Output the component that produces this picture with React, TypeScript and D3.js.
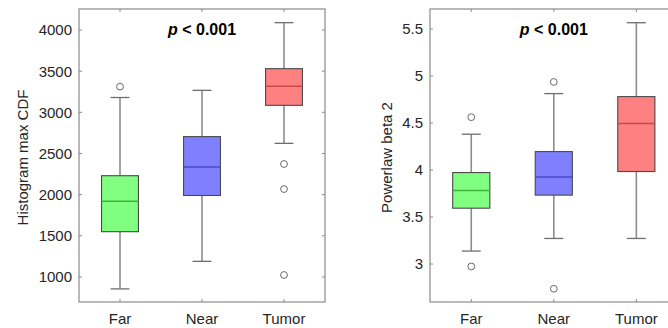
import React from "react";
import * as d3 from "d3";

const categories = ["Far", "Near", "Tumor"];
const fills = ["#80ff80", "#8080ff", "#ff8080"];
const medianColors = ["#3fb53f", "#4a4ac8", "#c84a4a"];

// Left panel: Histogram max CDF  [lowWhisker, q1, median, q3, highWhisker]
const histStats = [
  [855, 1550, 1920, 2230, 3180],
  [1190, 1990, 2336, 2705, 3267],
  [2623, 3085, 3316, 3530, 4089],
];
const histOutliers = [[3311], [], [2372, 2068, 1024]];
const histTicks = [1000, 1500, 2000, 2500, 3000, 3500, 4000];
const histDomain = [696, 4255];

// Right panel: Powerlaw beta 2
const betaStats = [
  [3.138, 3.594, 3.782, 3.973, 4.381],
  [3.272, 3.733, 3.927, 4.196, 4.813],
  [3.272, 3.984, 4.494, 4.781, 5.567],
];
const betaOutliers = [[4.562, 2.974], [4.937, 2.737], []];
const betaTicks = [3, 3.5, 4, 4.5, 5, 5.5];
const betaDomain = [2.596, 5.713];

const TEXT = "#262626";
const AXIS = "#8a8a8a";
const FONT = "'Liberation Sans', Arial, Helvetica, sans-serif";

type PanelProps = {
  x0: number;
  x1: number;
  stats: number[][];
  outliers: number[][];
  ticks: number[];
  domain: number[];
  label: string;
  labelX: number;
};

function Panel({ x0, x1, stats, outliers, ticks, domain, label, labelX }: PanelProps) {
  const top = 9;
  const bottom = 302;
  const y = d3.scaleLinear().domain(domain).range([bottom, top]);
  const x = d3.scaleLinear().domain([0.5, 3.5]).range([x0, x1]);
  const unit = x(1) - x(0);
  const boxW = unit * 0.45;
  const capW = unit * 0.23;
  const tl = 3;
  return (
    <g>
      {/* boxes */}
      {categories.map((c, i) => {
        const [lo, q1, med, q3, hi] = stats[i];
        const cx = x(i + 1);
        return (
          <g key={c}>
            <line x1={cx} x2={cx} y1={y(hi)} y2={y(q3)} stroke="#8c8c8c" strokeWidth={1.6} />
            <line x1={cx} x2={cx} y1={y(q1)} y2={y(lo)} stroke="#8c8c8c" strokeWidth={1.6} />
            <line x1={cx - capW / 2} x2={cx + capW / 2} y1={y(hi)} y2={y(hi)} stroke="#6e6e6e" strokeWidth={1.3} />
            <line x1={cx - capW / 2} x2={cx + capW / 2} y1={y(lo)} y2={y(lo)} stroke="#6e6e6e" strokeWidth={1.3} />
            <rect
              x={cx - boxW / 2}
              y={y(q3)}
              width={boxW}
              height={y(q1) - y(q3)}
              fill={fills[i]}
              stroke="#4a4a4a"
              strokeWidth={1.1}
            />
            <line x1={cx - boxW / 2} x2={cx + boxW / 2} y1={y(med)} y2={y(med)} stroke={medianColors[i]} strokeWidth={1.5} />
            {outliers[i].map((v, k) => (
              <circle key={k} cx={cx} cy={y(v)} r={3.4} fill="none" stroke="#6a6a6a" strokeWidth={1} />
            ))}
          </g>
        );
      })}
      {/* frame */}
      <rect x={x0} y={top} width={x1 - x0} height={bottom - top} fill="none" stroke={AXIS} strokeWidth={1.2} />
      {/* y ticks */}
      {ticks.map((t) => (
        <g key={t}>
          <line x1={x0} x2={x0 + tl} y1={y(t)} y2={y(t)} stroke={AXIS} />
          <line x1={x1} x2={x1 - tl} y1={y(t)} y2={y(t)} stroke={AXIS} />
          <text
            x={x0 - 7}
            y={y(t)}
            dy="0.36em"
            textAnchor="end"
            fontSize={15}
            fill={TEXT}
            fontFamily={FONT}
          >
            {d3.format("")(t)}
          </text>
        </g>
      ))}
      {/* x ticks */}
      {categories.map((c, i) => (
        <g key={c}>
          <line x1={x(i + 1)} x2={x(i + 1)} y1={bottom} y2={bottom - tl} stroke={AXIS} />
          <line x1={x(i + 1)} x2={x(i + 1)} y1={top} y2={top + tl} stroke={AXIS} />
          <text x={x(i + 1)} y={323.5} textAnchor="middle" fontSize={15} fill={TEXT} fontFamily={FONT}>
            {c}
          </text>
        </g>
      ))}
      {/* y label */}
      <text
        transform={`translate(${labelX},${(top + bottom) / 2 + 2}) rotate(-90)`}
        textAnchor="middle"
        dy="0.36em"
        fontSize={15}
        fill={TEXT}
        fontFamily={FONT}
      >
        {label}
      </text>
      {/* p-value */}
      <text x={x(2)} y={35} textAnchor="middle" fontSize={16} fontWeight="bold" fill="#000" fontFamily={FONT}>
        <tspan fontStyle="italic">p</tspan>
        <tspan>{" < 0.001"}</tspan>
      </text>
    </g>
  );
}

export default function App() {
  return (
    <svg
      width={668}
      height={328}
      style={{ position: "absolute", left: 0, top: 0, background: "#fff" }}
    >
      <rect x={0} y={0} width={668} height={328} fill="#fff" />
      <Panel
        x0={79}
        x1={325}
        stats={histStats}
        outliers={histOutliers}
        ticks={histTicks}
        domain={histDomain}
        label="Histogram max CDF"
        labelX={23}
      />
      <Panel
        x0={430}
        x1={677.6}
        stats={betaStats}
        outliers={betaOutliers}
        ticks={betaTicks}
        domain={betaDomain}
        label="Powerlaw beta 2"
        labelX={387}
      />
    </svg>
  );
}
